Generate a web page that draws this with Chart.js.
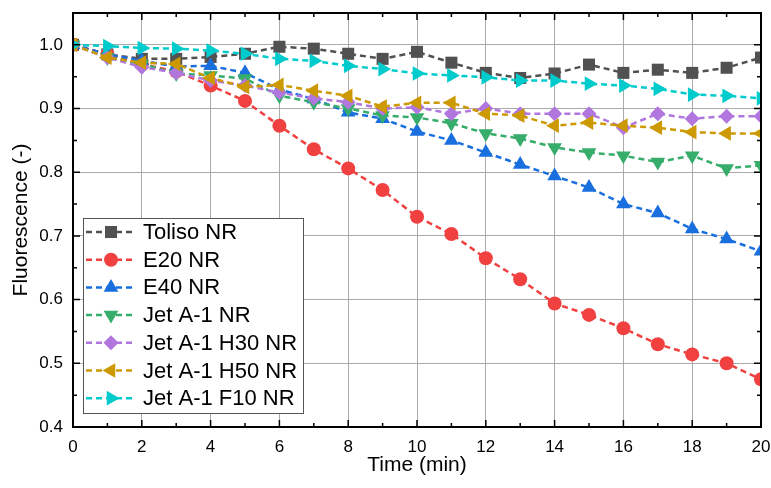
<!DOCTYPE html>
<html>
<head>
<meta charset="utf-8">
<script src="https://cdn.jsdelivr.net/npm/chart.js@4.4.0/dist/chart.umd.min.js"></script>
<style>
    html, body { margin: 0; padding: 0; background: #fff; }
    #wrap { width: 771px; height: 488px; position: relative; }
</style>
</head>
<body>
<div id="wrap"><canvas id="chart"></canvas></div>
<script>
    // time axis (min)
    const times = [0, 1, 2, 3, 4, 5, 6, 7, 8, 9, 10, 11, 12, 13, 14, 15, 16, 17, 18, 19, 20];

    // fluorescence values
    const tolisoNR = [1.000, 0.985, 0.978, 0.978, 0.981, 0.986, 0.997, 0.994, 0.986, 0.978, 0.989, 0.972, 0.956, 0.948, 0.955, 0.969, 0.956, 0.961, 0.956, 0.964, 0.980];
    const e20NR    = [1.000, 0.985, 0.970, 0.958, 0.936, 0.912, 0.873, 0.836, 0.806, 0.772, 0.730, 0.703, 0.665, 0.632, 0.594, 0.576, 0.555, 0.530, 0.514, 0.500, 0.475];
    const e40NR    = [1.000, 0.985, 0.975, 0.966, 0.967, 0.956, 0.930, 0.915, 0.894, 0.884, 0.864, 0.850, 0.831, 0.812, 0.794, 0.776, 0.750, 0.736, 0.711, 0.695, 0.676];
    const jetNR    = [1.000, 0.980, 0.970, 0.955, 0.952, 0.947, 0.920, 0.910, 0.900, 0.889, 0.886, 0.877, 0.861, 0.853, 0.839, 0.831, 0.826, 0.816, 0.826, 0.806, 0.811];
    const jetH30NR = [1.000, 0.980, 0.965, 0.956, 0.944, 0.936, 0.925, 0.916, 0.910, 0.900, 0.902, 0.892, 0.900, 0.892, 0.892, 0.892, 0.870, 0.892, 0.884, 0.888, 0.888];
    const jetH50NR = [1.000, 0.980, 0.972, 0.970, 0.948, 0.934, 0.937, 0.928, 0.920, 0.903, 0.909, 0.909, 0.892, 0.889, 0.873, 0.878, 0.873, 0.870, 0.863, 0.861, 0.861];
    const jetF10NR = [1.000, 0.998, 0.995, 0.994, 0.991, 0.986, 0.978, 0.975, 0.967, 0.962, 0.955, 0.952, 0.949, 0.944, 0.944, 0.939, 0.936, 0.931, 0.922, 0.920, 0.916];

    const seriesNames = ['Toliso NR', 'E20 NR', 'E40 NR', 'Jet A-1 NR', 'Jet A-1 H30 NR', 'Jet A-1 H50 NR', 'Jet A-1 F10 NR'];
    const seriesValues = [tolisoNR, e20NR, e40NR, jetNR, jetH30NR, jetH50NR, jetF10NR];

    // axis ticks
    const xTicks = [0, 2, 4, 6, 8, 10, 12, 14, 16, 18, 20];
    const xMinorTicks = [1, 3, 5, 7, 9, 11, 13, 15, 17, 19];
    const yTicks = [0.4, 0.5, 0.6, 0.7, 0.8, 0.9, 1.0];
    const yMinorTicks = [0.45, 0.55, 0.65, 0.75, 0.85, 0.95];

    // styles
    const colors = ['#515151', '#F14040', '#1A6FDF', '#37AD6B', '#B177DE', '#CC9900', '#00CBCC'];
    const markers = [
        { style: 'rect', rotation: 0, radius: 8.5 },
        { style: 'circle', rotation: 0, radius: 7 },
        { style: 'triangle', rotation: 0, radius: 8.5 },
        { style: 'triangle', rotation: 180, radius: 8.5 },
        { style: 'rectRot', rotation: 0, radius: 7.5 },
        { style: 'triangle', rotation: -90, radius: 8.5 },
        { style: 'triangle', rotation: 90, radius: 8.5 }
    ];
    const font = "'Liberation Sans', Arial, sans-serif";
    const dash = [6, 4];

    const datasets = seriesNames.map((name, i) => ({
        label: name,
        data: times.map((t, j) => ({ x: t, y: seriesValues[i][j] })),
        borderColor: colors[i],
        backgroundColor: colors[i],
        borderWidth: 2.5,
        borderDash: dash,
        pointStyle: markers[i].style,
        rotation: markers[i].rotation,
        pointRadius: markers[i].radius,
        pointBorderWidth: 0,
        pointBackgroundColor: colors[i],
        order: -i
    }));

    // inward ticks on all four sides, black frame, legend box inside the plot
    const framePlugin = {
        id: 'frame',
        afterDatasetsDraw(chart) {
            const { ctx, chartArea: a, scales: { x, y } } = chart;
            ctx.save();
            ctx.strokeStyle = '#000';
            ctx.lineWidth = 1.5;
            ctx.beginPath();
            const tickX = (v, len) => {
                const px = x.getPixelForValue(v);
                ctx.moveTo(px, a.bottom); ctx.lineTo(px, a.bottom - len);
                ctx.moveTo(px, a.top); ctx.lineTo(px, a.top + len);
            };
            const tickY = (v, len) => {
                const py = y.getPixelForValue(v);
                ctx.moveTo(a.left, py); ctx.lineTo(a.left + len, py);
                ctx.moveTo(a.right, py); ctx.lineTo(a.right - len, py);
            };
            xTicks.forEach(v => tickX(v, 7));
            xMinorTicks.forEach(v => tickX(v, 4));
            yTicks.forEach(v => tickY(v, 7));
            yMinorTicks.forEach(v => tickY(v, 4));
            ctx.stroke();
            ctx.lineWidth = 2;
            ctx.strokeRect(a.left, a.top, a.right - a.left, a.bottom - a.top);
            ctx.restore();
        },
        afterDraw(chart) {
            const ctx = chart.ctx;
            const box = { left: 83, top: 218, width: 220, height: 195 };
            ctx.save();
            ctx.fillStyle = '#fff';
            ctx.fillRect(box.left, box.top, box.width, box.height);
            ctx.strokeStyle = '#555';
            ctx.lineWidth = 1;
            ctx.strokeRect(box.left + 0.5, box.top + 0.5, box.width, box.height);
            ctx.font = '22px ' + font;
            ctx.textBaseline = 'middle';
            chart.data.datasets.forEach((ds, i) => {
                const cy = box.top + 14 + i * 27.7;
                ctx.strokeStyle = ds.borderColor;
                ctx.lineWidth = 2.5;
                ctx.setLineDash(dash);
                ctx.beginPath();
                ctx.moveTo(86, cy);
                ctx.lineTo(134, cy);
                ctx.stroke();
                ctx.setLineDash([]);
                ctx.fillStyle = ds.borderColor;
                Chart.helpers.drawPoint(ctx, {
                    pointStyle: ds.pointStyle,
                    rotation: ds.rotation,
                    radius: ds.pointRadius,
                    borderWidth: 0
                }, 111, cy);
                ctx.fillStyle = '#000';
                ctx.fillText(ds.label, 143, cy + 1);
            });
            ctx.restore();
        }
    };

    new Chart(document.getElementById('chart'), {
        type: 'line',
        data: { datasets },
        options: {
            responsive: true,
            maintainAspectRatio: false,
            animation: false,
            layout: { padding: { left: 0, right: 10, top: 13, bottom: 0 } },
            plugins: { legend: { display: false }, tooltip: { enabled: false } },
            scales: {
                x: {
                    type: 'linear',
                    min: 0,
                    max: 20,
                    afterBuildTicks: s => { s.ticks = xTicks.map(v => ({ value: v })); },
                    afterFit: s => { s.height = 61; s.paddingLeft = 0; s.paddingRight = 0; },
                    grid: { color: '#ababab', lineWidth: 1, drawTicks: false },
                    border: { display: false },
                    ticks: { color: '#000', padding: 10, maxRotation: 0, font: { family: font, size: 17 } },
                    title: {
                        display: true,
                        text: 'Time (min)',
                        color: '#000',
                        font: { family: font, size: 21 },
                        padding: { top: 0, bottom: 10 }
                    }
                },
                y: {
                    type: 'linear',
                    min: 0.4,
                    max: 1.05,
                    afterBuildTicks: s => { s.ticks = yTicks.map(v => ({ value: v })); },
                    afterFit: s => { s.width = 73; s.paddingTop = 0; s.paddingBottom = 0; },
                    grid: { color: '#ababab', lineWidth: 1, drawTicks: false },
                    border: { display: false },
                    ticks: {
                        color: '#000',
                        padding: 10,
                        font: { family: font, size: 17 },
                        callback: v => v.toFixed(1)
                    },
                    title: {
                        display: true,
                        text: 'Fluorescence (-)',
                        color: '#000',
                        font: { family: font, size: 21 },
                        padding: { top: 9, bottom: 0 }
                    }
                }
            }
        },
        plugins: [framePlugin]
    });
</script>
</body>
</html>
